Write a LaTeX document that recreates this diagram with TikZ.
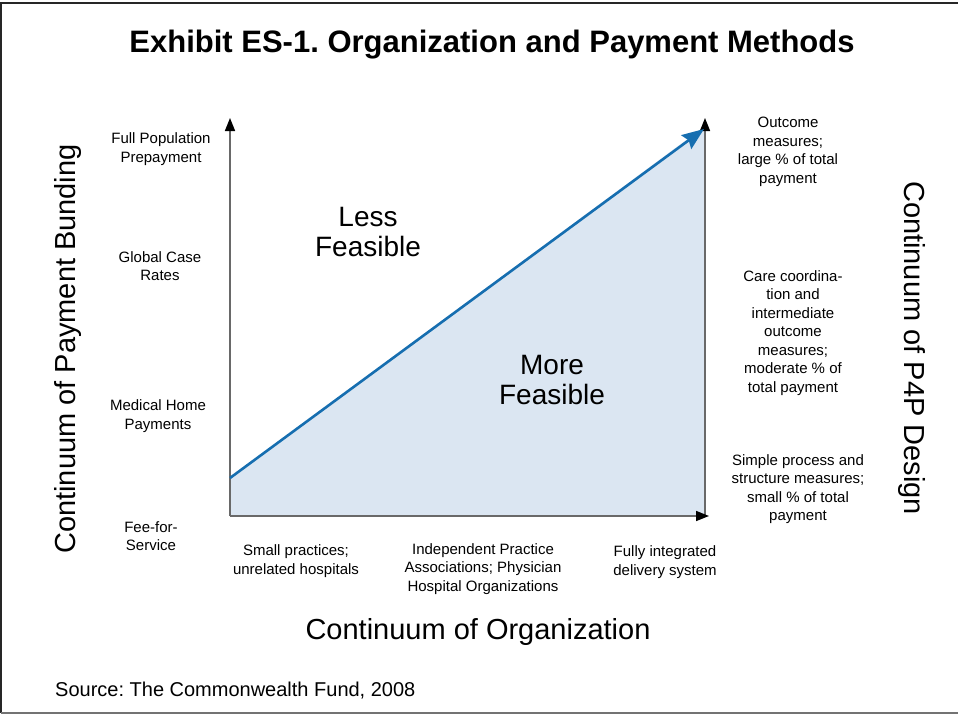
\documentclass[tikz,border=0pt]{standalone}
\usepackage{fontspec}
\setmainfont{Liberation Sans}
\usetikzlibrary{arrows.meta}
\definecolor{fillblue}{RGB}{219,230,242}
\definecolor{lineblue}{RGB}{22,110,176}
\definecolor{axisgray}{RGB}{105,105,105}
\frenchspacing
\begin{document}
\begin{tikzpicture}[x=1pt,y=-1pt,
  lab/.style={align=center,font=\fontsize{15}{18.5}\selectfont,inner sep=0pt},
  big/.style={align=center,font=\fontsize{28}{30}\selectfont,inner sep=0pt},
  axistitle/.style={font=\fontsize{29}{32}\selectfont,inner sep=0pt},
  axisline/.style={draw=axisgray,line width=1.6pt,-{Triangle[length=13pt,width=10pt,color=black]}},
  trend/.style={draw=lineblue,line width=2.6pt,-{Stealth[length=22pt,width=17pt,inset=3pt]}}]
\useasboundingbox (0,0) rectangle (958,715);
% frame
\draw[line width=2pt,black!85] (958,3) -- (1,3) -- (1,713);
\draw[line width=2pt,black!55] (1,713) -- (958,713);
% key points
\coordinate (O) at (230,516);
\coordinate (ytop) at (230,118);
\coordinate (xend) at (709,516);
\coordinate (rb) at (705,516);
\coordinate (rt) at (705,118);
\coordinate (ls) at (230,478);
\coordinate (le) at (704,129);
\coordinate (fc) at (705,126);
% feasible region
\fill[fillblue] (ls) -- (fc) -- (rb) -- (O) -- cycle;
% axes
\draw[axisline] (rb) -- (rt);
\draw[axisline] (O) -- (ytop);
\draw[axisline] (O) -- (xend);
% trend arrow
\draw[trend] (ls) -- (le);
% title
\node[font=\bfseries\fontsize{31}{34}\selectfont,inner sep=0pt] (title) at (492,45) {Exhibit ES-1. Organization and Payment Methods};
% left labels
\node[lab] (y1) at (161,149) {Full Population\\Prepayment};
\node[lab] (y2) at (160,266) {Global Case\\Rates};
\node[lab] (y3) at (158,416) {Medical Home\\Payments};
\node[lab] (y4) at (151,536) {Fee-for-\\Service};
% bottom labels
\node[lab] (x1) at (296,561) {Small practices;\\unrelated hospitals};
\node[lab] (x2) at (483,569) {Independent Practice\\Associations; Physician\\Hospital Organizations};
\node[lab] (x3) at (665,562) {Fully integrated\\delivery system};
% right labels
\node[lab] (r1) at (788,152) {Outcome\\measures;\\large \% of total\\payment};
\node[lab] (r2) at (793,333) {Care coordina-\\tion and\\intermediate\\outcome\\measures;\\moderate \% of\\total payment};
\node[lab] (r3) at (798,489) {Simple process and\\structure measures;\\small \% of total\\payment};
% region labels
\node[big] (less) at (368,232) {Less\\Feasible};
\node[big] (more) at (552,380) {More\\Feasible};
% axis titles
\node[axistitle] (xt) at (478,632) {Continuum of Organization};
\node[axistitle,rotate=90] (yt) at (68,349) {Continuum of Payment Bunding};
\node[axistitle,rotate=-90] (rtit) at (912,348) {Continuum of P4P Design};
% source
\node[font=\fontsize{20}{22}\selectfont,inner sep=0pt,anchor=west] (src) at (55,691) {Source: The Commonwealth Fund, 2008};
\end{tikzpicture}
\end{document}
